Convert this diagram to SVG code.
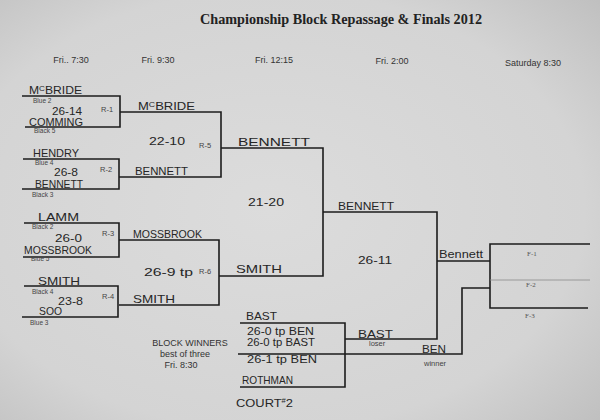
<svg xmlns="http://www.w3.org/2000/svg" width="600" height="420" viewBox="0 0 600 420">
<defs>
<radialGradient id="paper" cx="0.45" cy="0.5" r="0.75">
<stop offset="0" stop-color="#dcdcdc"/>
<stop offset="0.7" stop-color="#d4d4d4"/>
<stop offset="1" stop-color="#bfbfbf"/>
</radialGradient>
<style>
.ln{fill:none;stroke:#1c1c1c;stroke-width:1.6;stroke-linejoin:miter}
.thin{fill:none;stroke:#8a8a8a;stroke-width:0.8}
.title{font-family:"Liberation Serif",serif;font-weight:bold;font-size:14px;fill:#222}
.hdr{font-family:"Liberation Sans",Arial,sans-serif;font-size:9px;fill:#333}
.hw{font-family:"Liberation Sans Narrow","Liberation Sans",sans-serif;font-size:11px;fill:#262626}
.sc{font-family:"Liberation Sans Narrow","Liberation Sans",sans-serif;font-size:10.5px;fill:#262626}
.sm{font-family:"Liberation Sans",Arial,sans-serif;font-size:6.5px;fill:#444}
.r{font-family:"Liberation Sans",Arial,sans-serif;font-size:7.5px;fill:#444}
.f{font-family:"Liberation Serif",serif;font-size:7px;fill:#555}
.note{font-family:"Liberation Sans",Arial,sans-serif;font-size:9px;fill:#333;text-anchor:middle}
</style>
</defs>
<rect width="600" height="420" fill="url(#paper)"/>

<g id="header">
<text class="title" x="200" y="24" textLength="282" lengthAdjust="spacingAndGlyphs">Championship Block Repassage &amp; Finals 2012</text>
<text class="hdr" x="71" y="63" text-anchor="middle">Fri.. 7:30</text>
<text class="hdr" x="158" y="63" text-anchor="middle">Fri. 9:30</text>
<text class="hdr" x="274" y="63" text-anchor="middle">Fri. 12:15</text>
<text class="hdr" x="392" y="64" text-anchor="middle">Fri. 2:00</text>
<text class="hdr" x="533" y="66" text-anchor="middle">Saturday 8:30</text>
</g>

<g id="connectors">
<path class="ln" d="M22,96 H120 V127 H25"/>
<path class="ln" d="M23,159 H119 V189 H22"/>
<path class="ln" d="M24,223 H119 V257 H23"/>
<path class="ln" d="M24,286 H118 V317 H22"/>
<path class="ln" d="M120,112 H221 V177 H119"/>
<path class="ln" d="M119,240 H219 V305 H119"/>
<path class="ln" d="M221,148 H323 V276 H219"/>
<path class="ln" d="M323,212 H437 V339 H345"/>
<path class="ln" d="M240,323 H345 V387 H240"/>
<path class="ln" d="M238,354 H462 V288 H490"/>
<path class="ln" d="M437,261 H490"/>
<path class="ln" d="M590,244 H490 V308 H588"/>
<path class="thin" d="M490,280 H590"/>
</g>

<g id="R-1">
<text class="sc" x="29" y="94" textLength="53" lengthAdjust="spacingAndGlyphs">M<tspan dy="-3" font-size="7">C</tspan><tspan dy="3">BRIDE</tspan></text>
<text class="sm" x="33" y="103">Blue 2</text>
<text class="hw" x="52" y="115" textLength="30" lengthAdjust="spacingAndGlyphs">26-14</text>
<text class="sc" x="29" y="126" textLength="54" lengthAdjust="spacingAndGlyphs">COMMING</text>
<text class="sm" x="34" y="133">Black 5</text>
<text class="r" x="101" y="112">R-1</text>
</g>

<g id="R-2">
<text class="sc" x="33" y="157" textLength="46" lengthAdjust="spacingAndGlyphs">HENDRY</text>
<text class="sm" x="35" y="165">Blue 4</text>
<text class="hw" x="54" y="176" font-size="10" textLength="24" lengthAdjust="spacingAndGlyphs">26-8</text>
<text class="sc" x="35" y="188" textLength="48" lengthAdjust="spacingAndGlyphs">BENNETT</text>
<text class="sm" x="32" y="197">Black 3</text>
<text class="r" x="100" y="172">R-2</text>
</g>

<g id="R-3">
<text class="sc" x="38" y="221" textLength="41" lengthAdjust="spacingAndGlyphs">LAMM</text>
<text class="sm" x="32" y="229">Black 2</text>
<text class="hw" x="55" y="242" textLength="27" lengthAdjust="spacingAndGlyphs">26-0</text>
<text class="sc" x="24" y="254" textLength="68" lengthAdjust="spacingAndGlyphs">MOSSBROOK</text>
<text class="sm" x="31" y="261">Blue 5</text>
<text class="r" x="102" y="236">R-3</text>
</g>

<g id="R-4">
<text class="sc" x="38" y="285" textLength="42" lengthAdjust="spacingAndGlyphs">SMITH</text>
<text class="sm" x="32" y="294">Black 4</text>
<text class="hw" x="58" y="305" textLength="25" lengthAdjust="spacingAndGlyphs">23-8</text>
<text class="sc" x="39" y="315" textLength="23" lengthAdjust="spacingAndGlyphs">SOO</text>
<text class="sm" x="30" y="325">Blue 3</text>
<text class="r" x="102" y="299">R-4</text>
</g>

<g id="R-5">
<text class="sc" x="138" y="110" textLength="57" lengthAdjust="spacingAndGlyphs">M<tspan dy="-3" font-size="7">C</tspan><tspan dy="3">BRIDE</tspan></text>
<text class="hw" x="149" y="145" font-size="12" textLength="36" lengthAdjust="spacingAndGlyphs">22-10</text>
<text class="r" x="199" y="148">R-5</text>
<text class="sc" x="135" y="175" textLength="53" lengthAdjust="spacingAndGlyphs">BENNETT</text>
</g>

<g id="R-6">
<text class="sc" x="133" y="238" textLength="69" lengthAdjust="spacingAndGlyphs">MOSSBROOK</text>
<text class="hw" x="144" y="276" font-size="12" textLength="49" lengthAdjust="spacingAndGlyphs">26-9 tp</text>
<text class="r" x="199" y="274">R-6</text>
<text class="sc" x="133" y="303" textLength="42" lengthAdjust="spacingAndGlyphs">SMITH</text>
</g>

<g id="semi">
<text class="sc" x="238" y="146" textLength="72" lengthAdjust="spacingAndGlyphs">BENNETT</text>
<text class="hw" x="248" y="206" font-size="12" textLength="36" lengthAdjust="spacingAndGlyphs">21-20</text>
<text class="sc" x="236" y="273" textLength="46" lengthAdjust="spacingAndGlyphs">SMITH</text>
</g>

<g id="repassage-final">
<text class="sc" x="338" y="210" textLength="56" lengthAdjust="spacingAndGlyphs">BENNETT</text>
<text class="hw" x="358" y="264" font-size="12" textLength="34" lengthAdjust="spacingAndGlyphs">26-11</text>
<text class="sc" x="358" y="338" textLength="35" lengthAdjust="spacingAndGlyphs">BAST</text>
<text class="r" x="369" y="346" font-size="8">loser</text>
</g>

<g id="block-winners">
<text class="sc" x="246" y="320" font-size="9.5" textLength="31" lengthAdjust="spacingAndGlyphs">BAST</text>
<text class="hw" x="247" y="335" font-size="8.5" textLength="67" lengthAdjust="spacingAndGlyphs">26-0 tp BEN</text>
<text class="hw" x="247" y="346" font-size="8.5" textLength="68" lengthAdjust="spacingAndGlyphs">26-0 tp BAST</text>
<text class="hw" x="247" y="363" font-size="9" textLength="70" lengthAdjust="spacingAndGlyphs">26-1 tp BEN</text>
<text class="sc" x="242" y="384" font-size="9.5" textLength="51" lengthAdjust="spacingAndGlyphs">ROTHMAN</text>
<text class="hw" x="236" y="407" font-size="10" textLength="57" lengthAdjust="spacingAndGlyphs">COURT<tspan dy="-4" font-size="6.5">#</tspan><tspan dy="4">2</tspan></text>
<text class="note" x="190" y="346">BLOCK WINNERS</text>
<text class="note" x="185" y="357">best of three</text>
<text class="note" x="181" y="368">Fri. 8:30</text>
<text class="sc" x="422" y="353" font-size="10.5" textLength="24" lengthAdjust="spacingAndGlyphs">BEN</text>
<text class="r" x="424" y="366" font-size="8">winner</text>
</g>

<g id="finals">
<text class="hw" x="439" y="258" textLength="44" lengthAdjust="spacingAndGlyphs">Bennett</text>
<text class="f" x="527" y="256">F-1</text>
<text class="f" x="526" y="287">F-2</text>
<text class="f" x="525" y="318">F-3</text>
</g>
</svg>
